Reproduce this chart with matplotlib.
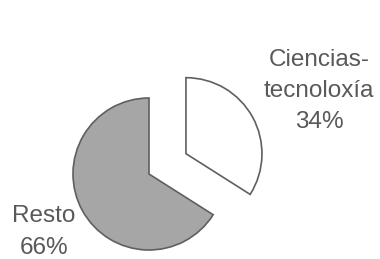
import matplotlib
matplotlib.use("Agg")
import matplotlib.pyplot as plt

categories = ["Ciencias-\ntecnoloxía", "Resto"]
values = [34, 66]
pct_labels = ["34%", "66%"]

fig = plt.figure(figsize=(3.8, 2.59), dpi=100)
ax = fig.add_axes([0, 0, 1, 1])
ax.pie(values, explode=[0.555, 0], startangle=90, counterclock=False,
       colors=["#ffffff", "#a6a6a6"],
       wedgeprops=dict(edgecolor="#5f5f5f", linewidth=1.2))
ax.set_xlim(-149/76, 231/76)
ax.set_ylim(-85/76, 174/76)
ax.set_aspect("equal")
ax.axis("off")

txt = dict(fontsize=17.5, color="#595959", family="Liberation Sans",
           ha="center", va="center", linespacing=1.55)
fig.text(319/380, 1 - 91/259, categories[0] + "\n" + pct_labels[0], **txt)
fig.text(44/380, 1 - 232/259, categories[1] + "\n" + pct_labels[1], **txt)

fig.savefig("out.png", dpi=100, facecolor="white")
